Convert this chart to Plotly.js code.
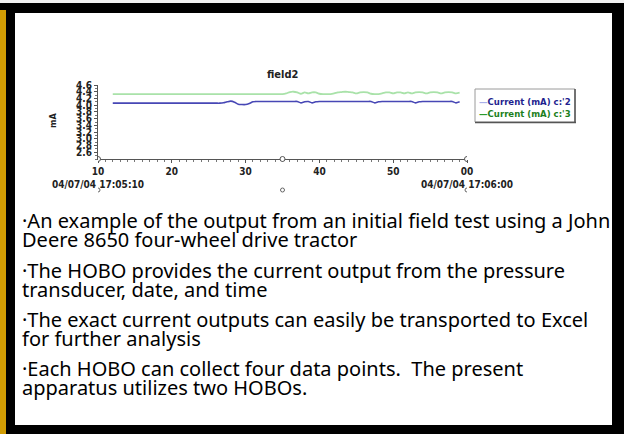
<!DOCTYPE html>
<html>
<head>
<meta charset="utf-8">
<script src="https://cdn.plot.ly/plotly-3.0.1.min.js"></script>
<style>
html,body{margin:0;padding:0;background:#000;}
#chart{width:624px;height:434px;}
</style>
</head>
<body>
<div id="chart"></div>
<script>
// ---- data (seconds after 17:05:00, mA) ----
const seconds = [12,12.5,13,13.5,14,14.5,15,15.5,16,16.5,17,17.5,18,18.5,19,19.5,20,20.5,21,21.5,22,22.5,23,23.5,24,24.5,25,25.5,26,26.5,27,27.5,28,28.5,29,29.5,30,30.5,31,31.5,32,32.5,33,33.5,34,34.5,35,35.5,36,36.5,37,37.5,38,38.5,39,39.5,40,40.5,41,41.5,42,42.5,43,43.5,44,44.5,45,45.5,46,46.5,47,47.5,48,48.5,49,49.5,50,50.5,51,51.5,52,52.5,53,53.5,54,54.5,55,55.5,56,56.5,57,57.5,58,58.5,59];
const currentC2 = [4.06,4.06,4.06,4.06,4.06,4.06,4.06,4.06,4.06,4.06,4.06,4.06,4.06,4.06,4.06,4.06,4.06,4.06,4.06,4.06,4.06,4.06,4.06,4.06,4.06,4.06,4.06,4.06,4.06,4.06,4.07,4.10,4.12,4.09,4.03,4.02,4.02,4.05,4.10,4.11,4.11,4.11,4.11,4.11,4.11,4.11,4.11,4.11,4.11,4.11,4.11,4.07,4.10,4.11,4.07,4.10,4.11,4.11,4.11,4.11,4.11,4.11,4.11,4.11,4.11,4.11,4.11,4.11,4.11,4.11,4.11,4.07,4.10,4.11,4.11,4.11,4.11,4.11,4.11,4.11,4.11,4.11,4.07,4.10,4.11,4.11,4.11,4.11,4.11,4.11,4.11,4.11,4.11,4.07,4.10];
const currentC3 = [4.33,4.33,4.33,4.33,4.33,4.33,4.33,4.33,4.33,4.33,4.33,4.33,4.33,4.33,4.33,4.33,4.33,4.33,4.33,4.33,4.33,4.33,4.33,4.33,4.33,4.33,4.33,4.33,4.33,4.33,4.33,4.33,4.33,4.33,4.33,4.33,4.33,4.33,4.33,4.33,4.33,4.33,4.33,4.33,4.33,4.33,4.33,4.35,4.39,4.40,4.38,4.34,4.38,4.35,4.38,4.38,4.34,4.33,4.33,4.33,4.35,4.38,4.39,4.40,4.39,4.38,4.35,4.38,4.39,4.38,4.34,4.33,4.33,4.35,4.38,4.38,4.35,4.38,4.38,4.35,4.38,4.35,4.38,4.39,4.38,4.35,4.38,4.39,4.38,4.35,4.38,4.39,4.38,4.35,4.37];
const seriesNames = ["Current (mA) c:'2", "Current (mA) c:'3"];
const xTickVals = [10,20,30,40,50,60];
const xTickText = ["10<br>04/07/04 17:05:10","20","30","40","50","00<br>04/07/04 17:06:00"];
const yTickVals = [2.6,2.8,3.0,3.2,3.4,3.6,3.8,4.0,4.2,4.4,4.6];
const yTickText = ["2.6","2.8","3.0","3.2","3.4","3.6","3.8","4.0","4.2","4.4","4.6"];
const markerTimes = [10,35,60];
const chartTitle = "field2";
const yTitle = "mA";
const bodyLines = [
  "·An example of the output from an initial field test using a John",
  "Deere 8650 four-wheel drive tractor",
  "·The HOBO provides the current output from the pressure",
  "transducer, date, and time",
  "·The exact current outputs can easily be transported to Excel",
  "for further analysis",
  "·Each HOBO can collect four data points.  The present",
  "apparatus utilizes two HOBOs."
];

// ---- layout helpers (pixel -> paper) ----
const L = 98, R = 467, T = 85, B = 159;
const W = 624, H = 434;
const PX = x => (x - L) / (R - L);
const PY = y => (B - y) / (B - T);

const narrow = "'Liberation Sans Narrow', 'DejaVu Sans Condensed', 'Arial Narrow', sans-serif";
const bodyFont = "'Comic Sans MS', 'Noto Sans', 'DejaVu Sans', sans-serif";

const traces = [
  {x: seconds, y: currentC2, name: seriesNames[0], mode: 'lines',
   line: {color: '#4747b5', width: 1.6, shape: 'spline', smoothing: 0.8}},
  {x: seconds, y: currentC3, name: seriesNames[1], mode: 'lines',
   line: {color: '#a9e2a9', width: 1.8, shape: 'spline', smoothing: 0.8}}
];

const shapes = [
  // slide frame
  {type:'rect', xref:'paper', yref:'paper', x0:PX(0), x1:PX(W), y0:PY(0), y1:PY(3), fillcolor:'#f2f2f2', line:{width:0}, layer:'below'},
  {type:'rect', xref:'paper', yref:'paper', x0:PX(0), x1:PX(6), y0:PY(10), y1:PY(H), fillcolor:'#d19c03', line:{width:0}, layer:'below'},
  {type:'rect', xref:'paper', yref:'paper', x0:PX(15), x1:PX(612), y0:PY(13), y1:PY(425), fillcolor:'#ffffff', line:{width:0}, layer:'below'},
  // legend box
  {type:'rect', xref:'paper', yref:'paper', x0:PX(475), x1:PX(575), y0:PY(89), y1:PY(122), fillcolor:'#ffffff', line:{color:'#9a9a9a', width:1}},
  {type:'line', xref:'paper', yref:'paper', x0:PX(575), x1:PX(575), y0:PY(89), y1:PY(123), line:{color:'#555', width:1.5}},
  {type:'line', xref:'paper', yref:'paper', x0:PX(475), x1:PX(576), y0:PY(122.5), y1:PY(122.5), line:{color:'#555', width:1.5}}
];
markerTimes.forEach(t => {
  shapes.push({type:'circle', xref:'x', yref:'paper', xsizemode:'pixel', ysizemode:'pixel', xanchor:t, yanchor:0,
    x0:-2.5, x1:2.5, y0:-2.5, y1:2.5, line:{color:'#555', width:1}, fillcolor:'#fff'});
  shapes.push({type:'circle', xref:'x', yref:'paper', xsizemode:'pixel', ysizemode:'pixel', xanchor:t, yanchor:PY(190),
    x0:-2, x1:2, y0:-2, y1:2, line:{color:'#666', width:1}, fillcolor:'#fff'});
});

const annotations = [
  {text: chartTitle, xref:'paper', yref:'paper', x:PX(283), y:PY(74), xanchor:'center', yanchor:'middle', showarrow:false,
   font:{family:narrow, size:11, color:'#222', weight:700}},
  {text: yTitle, xref:'paper', yref:'paper', x:PX(53), y:PY(121), xanchor:'center', yanchor:'middle', showarrow:false, textangle:-90,
   font:{family:narrow, size:9, color:'#222', weight:700}},
  {text: '<span style="color:#aab0ea">—</span>' + seriesNames[0], xref:'paper', yref:'paper', x:PX(477), y:PY(101),
   xanchor:'left', yanchor:'middle', showarrow:false, font:{family:narrow, size:9.5, color:'#1f1f8f', weight:700}},
  {text: '<span style="color:#2a9a2a">—</span>' + seriesNames[1], xref:'paper', yref:'paper', x:PX(477), y:PY(113),
   xanchor:'left', yanchor:'middle', showarrow:false, font:{family:narrow, size:9.5, color:'#1c7f1c', weight:700}}
];
const lineY = [220, 239, 270, 289, 319, 338, 368, 387];
bodyLines.forEach((s, i) => {
  annotations.push({text: s, xref:'paper', yref:'paper', x:PX(20), y:PY(lineY[i]), xanchor:'left', yanchor:'middle',
    showarrow:false, font:{family:bodyFont, size:20, color:'#000'}});
});

const layout = {
  width: W, height: H,
  margin: {l: L, r: W - R, t: T, b: H - B, pad: 0},
  paper_bgcolor: '#000000',
  plot_bgcolor: 'rgba(0,0,0,0)',
  showlegend: false,
  xaxis: {
    range: [10, 60], tickmode:'array', tickvals: xTickVals, ticktext: xTickText,
    showgrid:false, zeroline:false, showline:true, linecolor:'#555', linewidth:1,
    ticks:'outside', ticklen:3, tickcolor:'#555',
    minor:{dtick:1, ticks:'outside', ticklen:2, tickcolor:'#777', showgrid:false},
    tickfont:{family:narrow, size:10, color:'#222', weight:700}
  },
  yaxis: {
    range: [2.4, 4.6], tickmode:'array', tickvals: yTickVals, ticktext: yTickText,
    showgrid:false, zeroline:false, showline:true, linecolor:'#555', linewidth:1,
    ticks:'outside', ticklen:3, tickcolor:'#555',
    minor:{dtick:0.1, ticks:'outside', ticklen:2, tickcolor:'#777', showgrid:false},
    tickfont:{family:narrow, size:10, color:'#222', weight:700}
  },
  shapes: shapes,
  annotations: annotations
};

Plotly.newPlot('chart', traces, layout, {staticPlot:true, displayModeBar:false});
</script>
</body>
</html>
